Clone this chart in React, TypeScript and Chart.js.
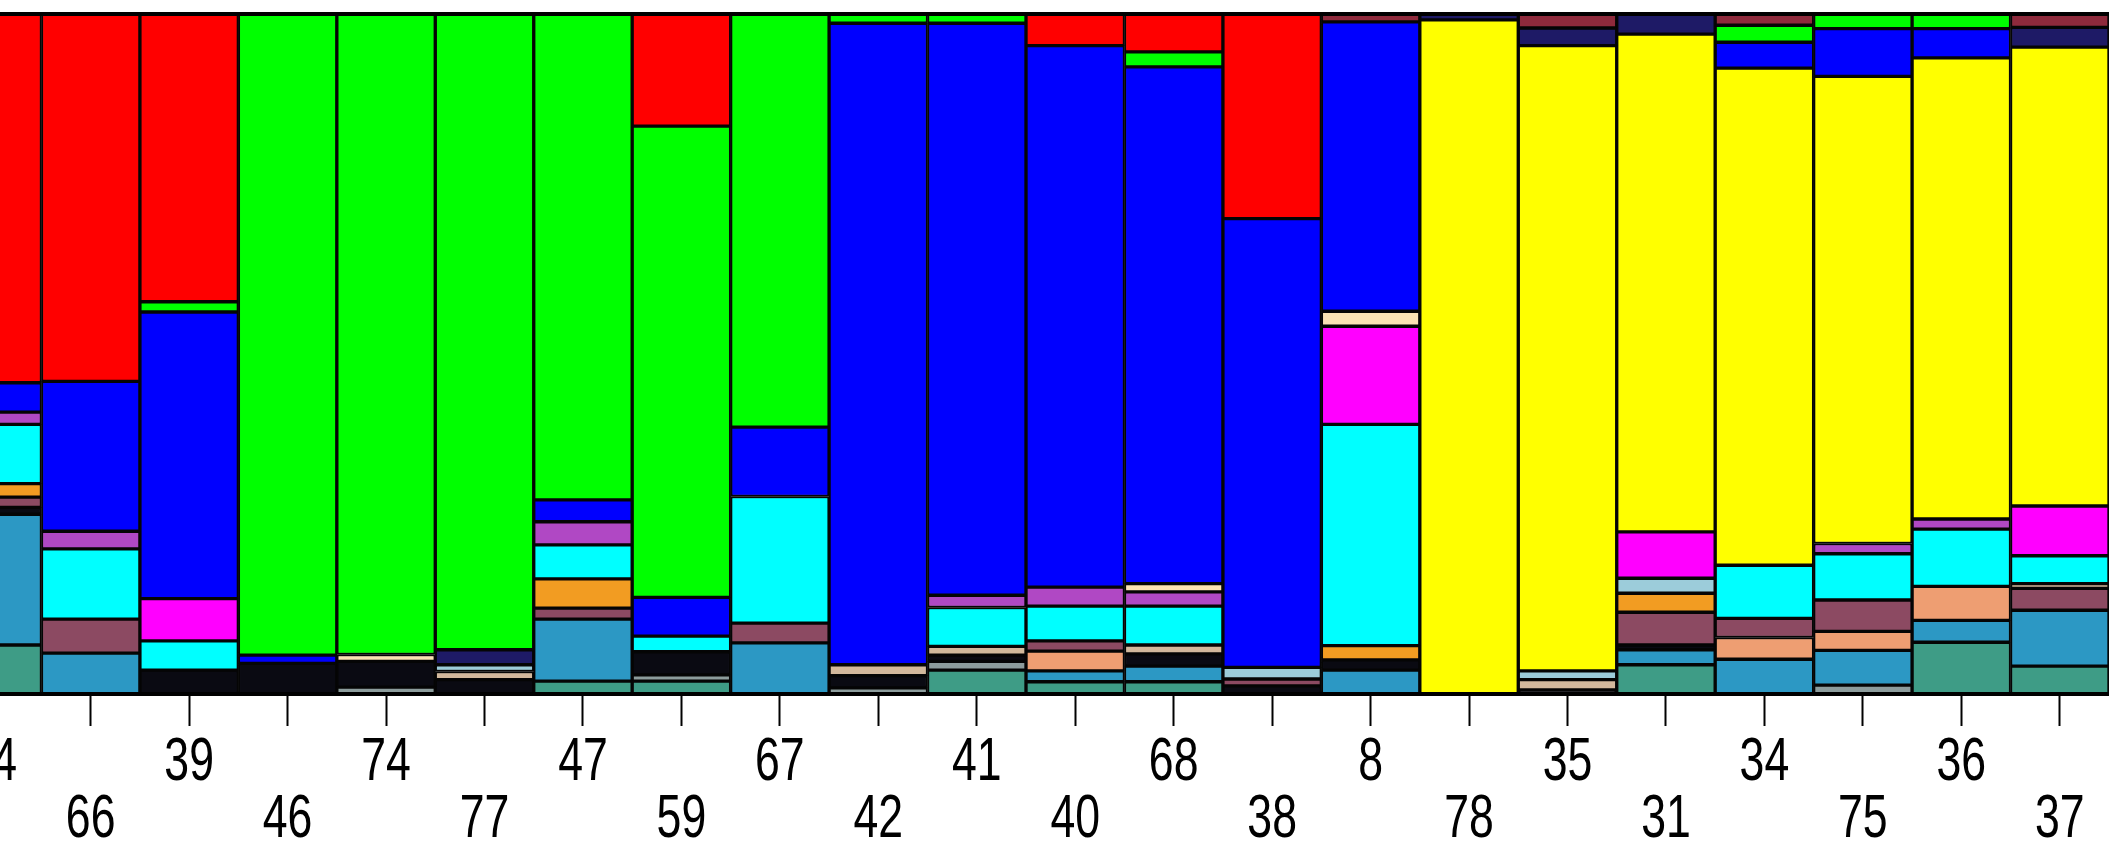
import React, { useEffect, useRef } from "react";
import { Chart, registerables } from "chart.js";

Chart.register(...registerables);

// Population labels (first one is cut off at the left edge in the reference)
const populations = ["\u20074", "66", "39", "46", "74", "77", "47", "59", "67", "42", "41", "40", "68", "38", "8", "78", "35", "31", "34", "75", "36", "37"];

// Cluster membership (%) per population, stacked bottom -> top
const seaGreen = [7.2, 0, 0, 0, 0, 0, 1.9, 1.9, 0, 0, 3.5, 1.8, 1.8, 0, 0, 0, 0, 4.3, 0, 0, 7.6, 4.1];
const grey = [0, 0, 0, 0, 1.0, 0, 0, 0.9, 0, 0.9, 1.3, 0, 0, 0, 0, 0, 0, 0, 0, 1.3, 0, 0];
const steelBlue = [19.2, 6.0, 0, 0, 0, 0, 9.1, 0, 7.5, 0, 0, 1.6, 2.3, 0, 3.5, 0, 0, 2.2, 5.1, 5.1, 3.2, 8.2];
const black = [1.0, 0, 3.5, 4.5, 3.8, 2.1, 0, 3.4, 0, 1.8, 0.9, 0, 1.8, 1.2, 1.5, 0, 0.6, 0.7, 0, 0, 0, 0];
const salmon = [0, 0, 0, 0, 0, 0, 0, 0, 0, 0, 0, 2.9, 0, 0, 0, 0, 0, 0, 3.2, 2.8, 5.0, 0];
const maroon = [1.5, 5.0, 0, 0, 0, 0, 1.6, 0, 2.9, 0, 0, 1.5, 0, 1.0, 0, 0, 0, 4.8, 2.8, 4.6, 0, 3.2];
const orange = [2.0, 0, 0, 0, 0, 0, 4.3, 0, 0, 0, 0, 0, 0, 0, 2.1, 0, 0, 2.8, 0, 0, 0, 0];
const tan = [0, 0, 0, 0, 0, 1.2, 0, 0, 0, 1.6, 1.3, 0, 1.3, 0, 0, 0, 1.5, 0, 0, 0, 0, 0.7];
const lightBlue = [0, 0, 0, 0, 0, 1.0, 0, 0, 0, 0, 0, 0, 0, 1.7, 0, 0, 1.3, 2.2, 0, 0, 0, 0];
const cyan = [8.7, 10.3, 4.3, 0, 0, 0, 5.0, 2.3, 18.6, 0, 5.7, 5.1, 5.7, 0, 32.5, 0, 0, 0, 7.8, 6.8, 8.4, 4.1];
const purple = [1.8, 2.6, 0, 0, 0, 0, 3.4, 0, 0, 0, 1.8, 2.8, 2.1, 0, 0, 0, 0, 0, 0, 1.5, 1.5, 0];
const magenta = [0, 0, 6.2, 0, 0, 0, 0, 0, 0, 0, 0, 0, 0, 0, 14.4, 0, 0, 6.8, 0, 0, 0, 7.3];
const cream = [0, 0, 0, 0, 1.0, 0, 0, 0, 0, 0, 0, 0, 1.2, 0, 2.2, 0, 0, 0, 0, 0, 0, 0];
const yellow = [0, 0, 0, 0, 0, 0, 0, 0, 0, 0, 0, 0, 0, 0, 0, 99.0, 91.8, 73.1, 73.0, 68.6, 67.7, 67.4];
const blue = [4.3, 22.0, 42.1, 1.2, 0, 0, 3.2, 5.7, 10.2, 94.2, 84.0, 79.5, 75.9, 65.9, 42.5, 0, 0, 0, 3.8, 7.0, 4.3, 0];
const navy = [0, 0, 0, 0, 0, 2.2, 0, 0, 0, 0, 0, 0, 0, 0, 0, 1.0, 2.6, 3.1, 0, 0, 0, 2.9];
const green = [0, 0, 1.5, 94.3, 94.2, 93.5, 71.5, 69.2, 60.8, 1.5, 1.5, 0, 2.2, 0, 0, 0, 0, 0, 2.5, 2.3, 2.3, 0];
const red = [54.3, 54.1, 42.4, 0, 0, 0, 0, 16.6, 0, 0, 0, 4.8, 5.7, 30.2, 0, 0, 0, 0, 0, 0, 0, 0];
const darkRed = [0, 0, 0, 0, 0, 0, 0, 0, 0, 0, 0, 0, 0, 0, 1.3, 0, 2.2, 0, 1.8, 0, 0, 2.1];

const clusters: [string, number[], string][] = [
  ["Cluster sea green", seaGreen, "#3E9C86"],
  ["Cluster grey", grey, "#8C9C9C"],
  ["Cluster steel blue", steelBlue, "#2C98C4"],
  ["Cluster black", black, "#0A0A12"],
  ["Cluster salmon", salmon, "#EE9E72"],
  ["Cluster maroon", maroon, "#8C4A62"],
  ["Cluster orange", orange, "#F29C22"],
  ["Cluster tan", tan, "#D2B89C"],
  ["Cluster light blue", lightBlue, "#9CCCDA"],
  ["Cluster cyan", cyan, "#00FFFF"],
  ["Cluster purple", purple, "#B048C4"],
  ["Cluster magenta", magenta, "#FF00FF"],
  ["Cluster cream", cream, "#FAE2B4"],
  ["Cluster yellow", yellow, "#FFFF00"],
  ["Cluster blue", blue, "#0000FF"],
  ["Cluster navy", navy, "#1E1A66"],
  ["Cluster green", green, "#00FF00"],
  ["Cluster red", red, "#FF0000"],
  ["Cluster dark red", darkRed, "#8E2A3C"],
];

const CANVAS_W = 2166;
const CANVAS_H = 845;

const topFrame = {
  id: "topFrame",
  afterDatasetsDraw(chart: any) {
    const { ctx, chartArea } = chart;
    ctx.save();
    ctx.fillStyle = "#000";
    ctx.fillRect(chartArea.left, chartArea.top - 1, chartArea.right - chartArea.left, 4);
    ctx.restore();
  },
};

// Draws the x tick labels in two staggered rows with a condensed look
const staggeredLabels = {
  id: "staggeredLabels",
  afterDraw(chart: any) {
    const { ctx, chartArea } = chart;
    const xs = chart.scales.x;
    const labels: string[] = chart.data.labels;
    ctx.save();
    ctx.fillStyle = "#000";
    ctx.font = "62px 'Liberation Sans', Arimo, Arial, sans-serif";
    ctx.textAlign = "center";
    ctx.textBaseline = "alphabetic";
    labels.forEach((lab, i) => {
      const x = xs.getPixelForValue(i);
      const y = chartArea.bottom + (i % 2 === 0 ? 86 : 143);
      ctx.save();
      ctx.translate(x, y);
      ctx.scale(0.72, 1);
      ctx.fillText(lab, 0, 0);
      ctx.restore();
    });
    ctx.restore();
  },
};

export default function App() {
  const canvasRef = useRef<HTMLCanvasElement | null>(null);

  useEffect(() => {
    if (!canvasRef.current) return;
    const chart = new Chart(canvasRef.current, {
      type: "bar",
      data: {
        labels: populations,
        datasets: clusters.map(([label, data, color]) => ({
          label,
          data,
          backgroundColor: color,
          borderColor: "#050505",
          borderWidth: 2,
          borderSkipped: false,
          barPercentage: 1,
          categoryPercentage: 1,
        })),
      },
      options: {
        animation: false,
        responsive: false,
        devicePixelRatio: 1,
        layout: { padding: { top: 13, left: 0, right: 0, bottom: 0 } },
        plugins: { legend: { display: false }, tooltip: { enabled: false } },
        scales: {
          x: {
            stacked: true,
            offset: true,
            afterFit: (scale: any) => {
              scale.height = 151;
            },
            grid: {
              display: true,
              offset: false,
              drawOnChartArea: false,
              drawTicks: true,
              tickLength: 32,
              tickWidth: 2,
              tickColor: "#000",
            },
            border: { display: true, color: "#000", width: 4, z: 1 },
            ticks: {
              display: false,
              autoSkip: false,
              maxRotation: 0,
              minRotation: 0,
            },
          },
          y: {
            stacked: true,
            display: false,
            min: 0,
            max: 100,
          },
        },
      },
      plugins: [topFrame, staggeredLabels],
    });
    return () => chart.destroy();
  }, []);

  return (
    <div
      style={{
        position: "fixed",
        left: 0,
        top: 0,
        width: 2112,
        height: 845,
        overflow: "hidden",
        background: "#fff",
      }}
    >
      <canvas
        ref={canvasRef}
        width={CANVAS_W}
        height={CANVAS_H}
        style={{ position: "absolute", left: -57, top: 0, width: CANVAS_W, height: CANVAS_H }}
      />
    </div>
  );
}
